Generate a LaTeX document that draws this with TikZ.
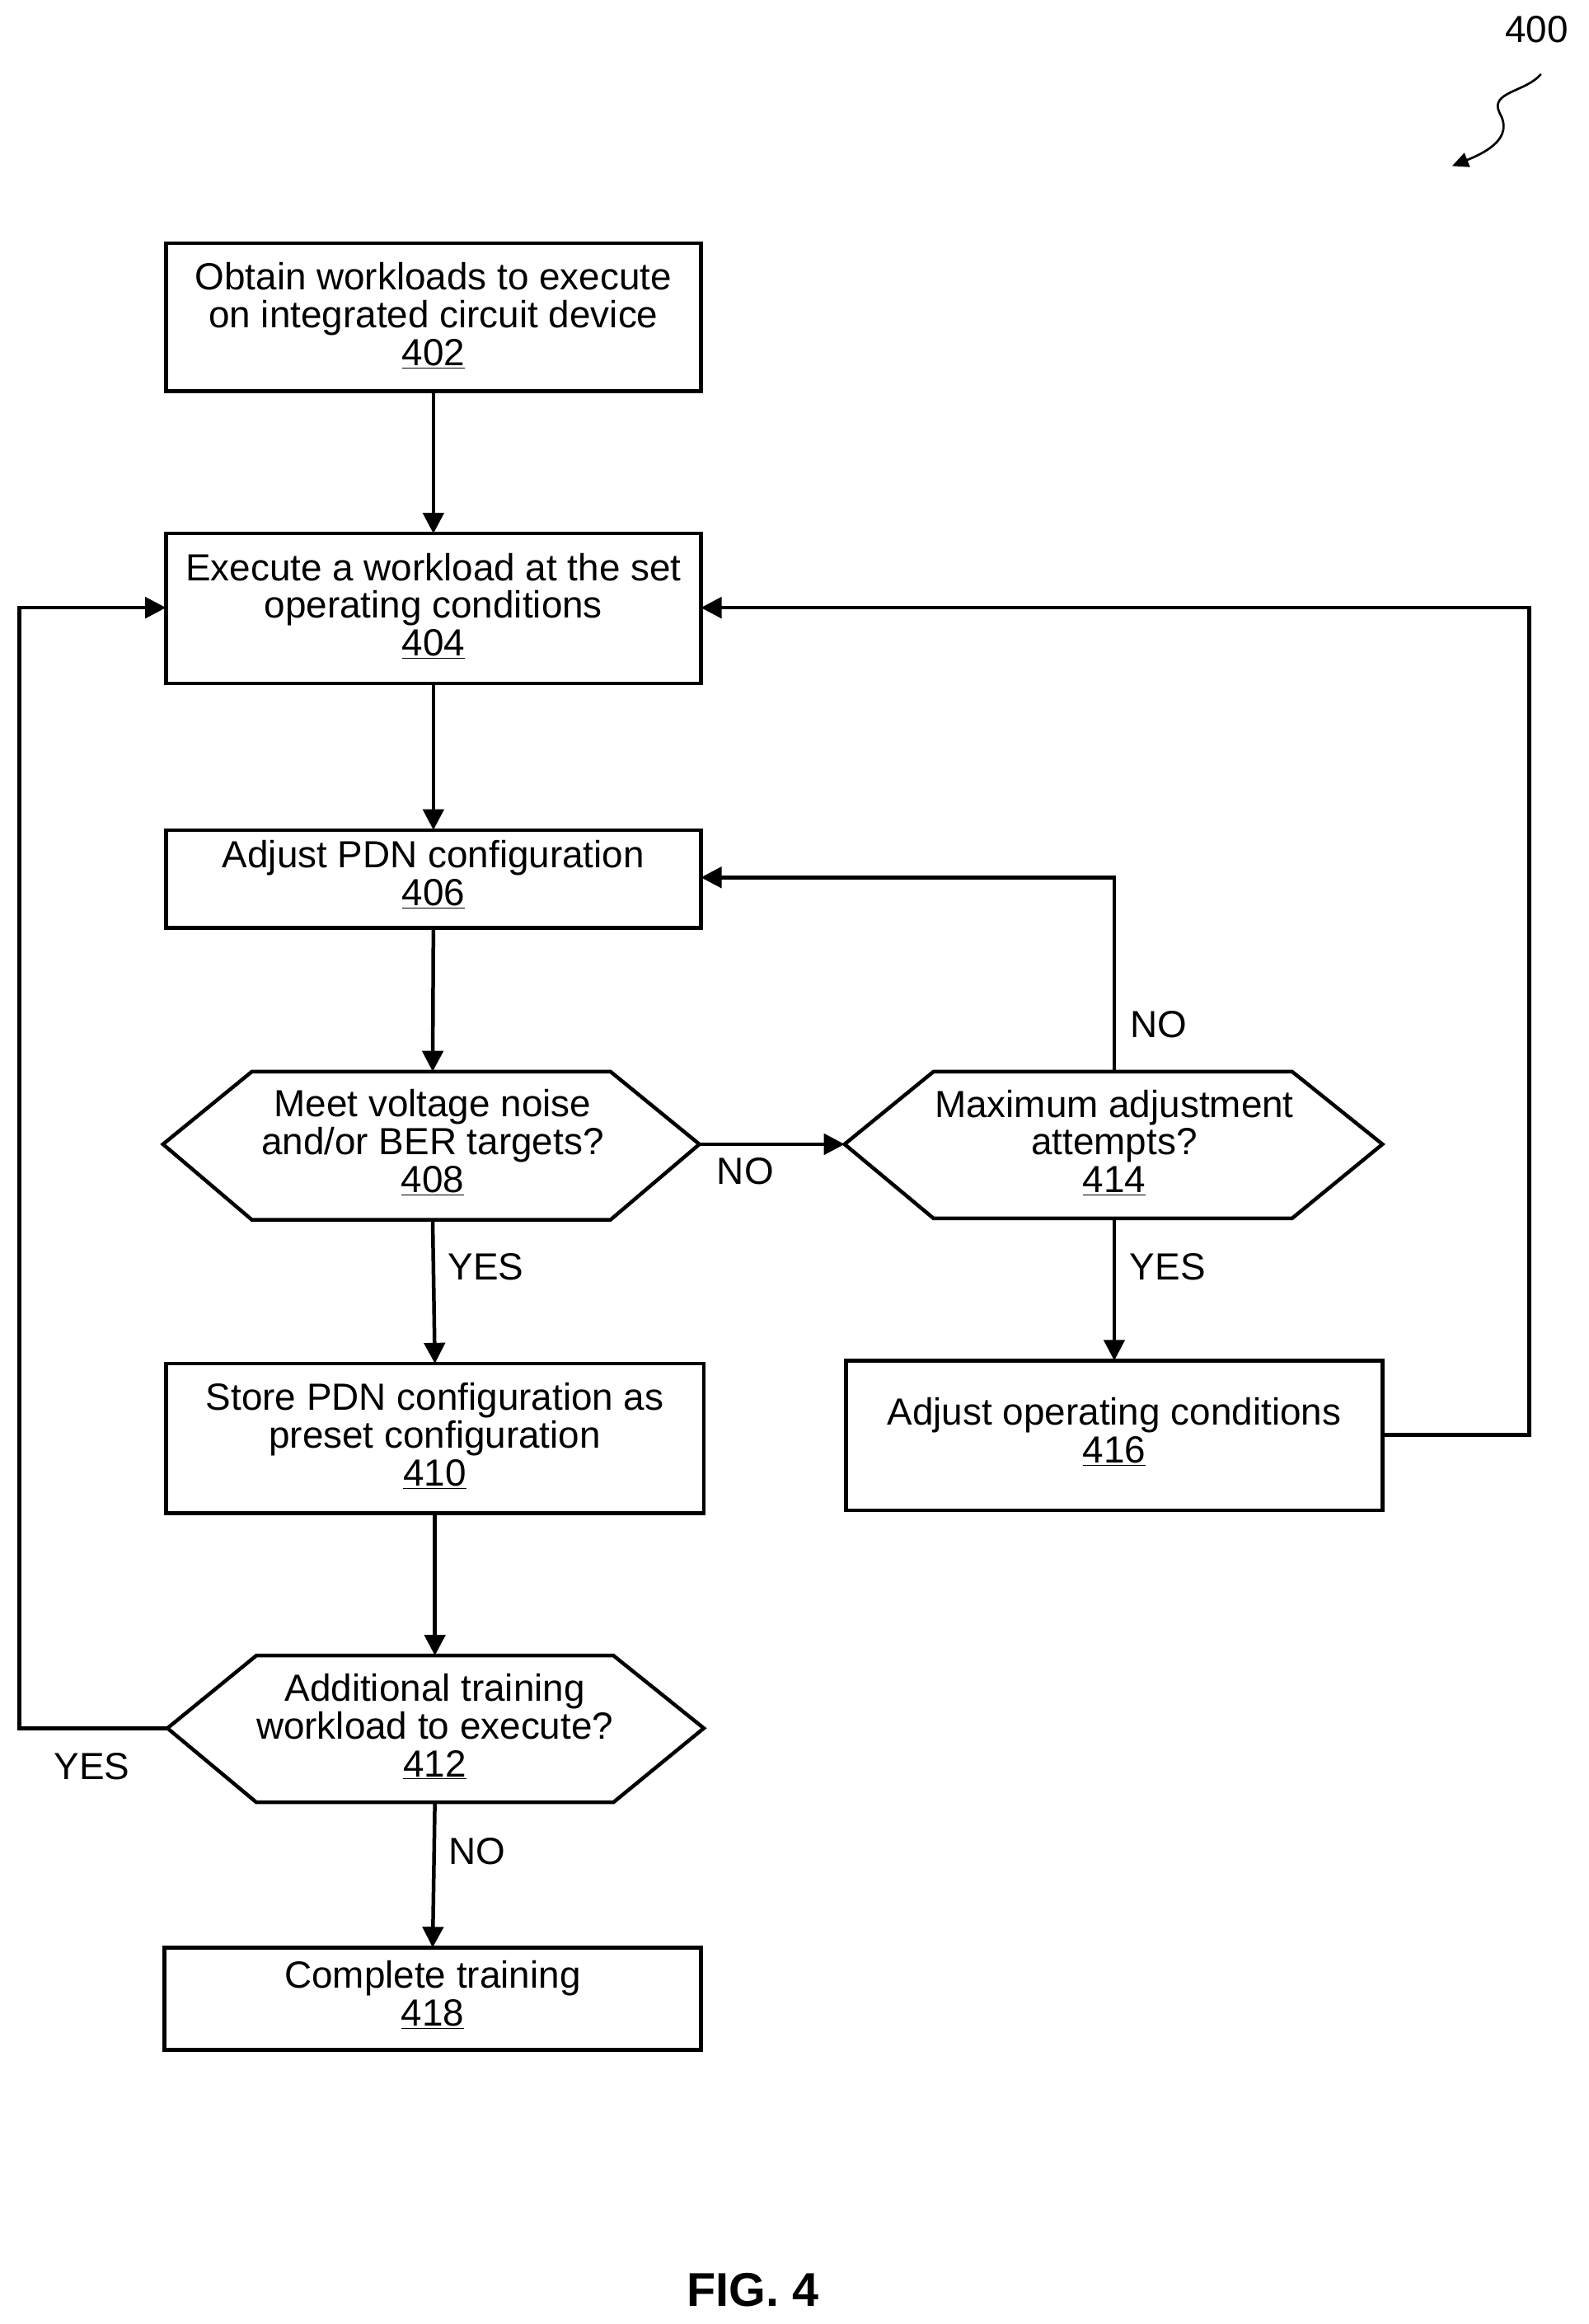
\documentclass[tikz,border=0pt]{standalone}
\usepackage{fontspec}
\setmainfont{Liberation Sans}
\usetikzlibrary{arrows.meta}
\begin{document}
\begin{tikzpicture}[x=1pt,y=-1pt,
  every node/.style={font=\fontsize{25.5}{25.5}\selectfont,align=center,inner sep=0pt},
  box/.style={draw,line width=2.5pt},
  ln/.style={line width=2.5pt},
  ar/.style={line width=2.5pt,-{Triangle[length=14pt,width=14pt]}},
  lab/.style={font=\fontsize{25.5}{25.5}\selectfont}]
\useasboundingbox (0,0) rectangle (1072,1568);
% boxes
\draw[box] (112,164) rectangle (473,264); \node (b402) at (292.5,213) {Obtain workloads to execute\\on integrated circuit device\\\underline{402}};
\coordinate (b402s) at (292.5,264);
\draw[box] (112,360) rectangle (473,461); \node (b404) at (292.5,409) {Execute a workload at the set\\operating conditions\\\underline{404}};
\coordinate (b404n) at (292.5,360); \coordinate (b404s) at (292.5,461);
\coordinate (b404w) at (112,410); \coordinate (b404e) at (473,410);
\draw[box] (112,560) rectangle (473,626); \node (b406) at (292.5,590) {Adjust PDN configuration\\\underline{406}};
\coordinate (b406n) at (292.5,560); \coordinate (b406s) at (292.5,626); \coordinate (b406e) at (473,592);
% hex 408
\draw[box] (110,772) -- (170,723) -- (412,723) -- (472,772) -- (412,823) -- (170,823) -- cycle;
\node (h408) at (292,771) {Meet voltage noise\\and/or BER targets?\\\underline{408}};
\coordinate (h408n) at (292,723); \coordinate (h408s) at (292,823); \coordinate (h408e) at (472,772);
% hex 414
\draw[box] (570,772) -- (630,723) -- (872,723) -- (933,772) -- (872,822) -- (630,822) -- cycle;
\node (h414) at (752,771) {Maximum adjustment\\attempts?\\\underline{414}};
\coordinate (h414n) at (752,723); \coordinate (h414s) at (752,822); \coordinate (h414w) at (570,772);
% box 410
\draw[box] (112,920) rectangle (475,1021); \node (b410) at (293.5,969) {Store PDN configuration as\\preset configuration\\\underline{410}};
\coordinate (b410n) at (293.5,920); \coordinate (b410s) at (293.5,1021);
% box 416
\draw[box] (571,918) rectangle (933,1019); \node (b416) at (752,966) {Adjust operating conditions\\\underline{416}};
\coordinate (b416n) at (752,918); \coordinate (b416e) at (933,968);
% hex 412
\draw[box] (113,1166) -- (173,1117) -- (414,1117) -- (475,1166) -- (414,1216) -- (173,1216) -- cycle;
\node (h412) at (293.5,1165) {Additional training\\workload to execute?\\\underline{412}};
\coordinate (h412n) at (293.5,1117); \coordinate (h412s) at (293.5,1216); \coordinate (h412w) at (113,1166);
% box 418
\draw[box] (111,1314) rectangle (473,1383); \node (b418) at (292,1346) {Complete training\\\underline{418}};
\coordinate (b418n) at (292,1314);
% arrows
\draw[ar] (b402s) -- (b404n);
\draw[ar] (b404s) -- (b406n);
\draw[ar] (b406s) -- (h408n);
\draw[ar] (h408s) -- (b410n);
\draw[ar] (b410s) -- (h412n);
\draw[ar] (h412s) -- (b418n);
\draw[ar] (h408e) -- (h414w);
\draw[ar] (h414s) -- (b416n);
\draw[ar] (h414n) |- (b406e);
\draw[ar] (b416e) -- (1032,968) |- (b404e);
\draw[ar] (h412w) -- (13,1166) |- (b404w);
% labels
\node[lab] (l1) at (328,855) {YES};
\node[lab] (l2) at (788,855) {YES};
\node[lab] (l3) at (503,790) {NO};
\node[lab] (l4) at (782,691) {NO};
\node[lab] (l5) at (322,1249) {NO};
\node[lab] (l6) at (62,1192) {YES};
\node[lab] (n400) at (1037,20) {400};
\coordinate (sq) at (1040,50);
\coordinate (sqe) at (980,112);
\draw[line width=1.5pt,-{Triangle[length=11pt,width=10pt]}] (sq) .. controls (1030,62) and (1005,62) .. (1012,76) .. controls (1020,90) and (1010,100) .. (sqe);
\node[font=\bfseries\fontsize{32}{32}\selectfont] (fig) at (508,1545) {FIG. 4};
\end{tikzpicture}
\end{document}
